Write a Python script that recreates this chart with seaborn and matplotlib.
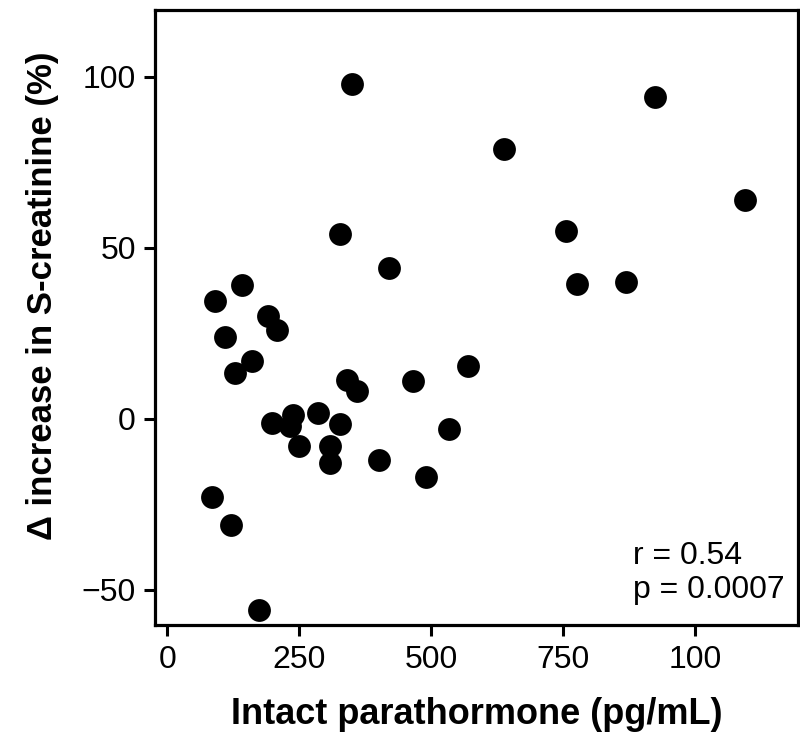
import matplotlib
matplotlib.use("Agg")
import matplotlib.pyplot as plt
import seaborn as sns
import pandas as pd

# Data
pth = [350, 924, 637, 1094, 328, 755, 420, 777, 869, 141, 90, 190, 207, 110,
       128, 160, 340, 359, 465, 570, 198, 238, 232, 286, 328, 250, 309, 309,
       401, 534, 491, 84, 121, 174]
creat = [98, 94, 79, 64, 54, 55, 44, 39.5, 40, 39, 34.3, 30, 26, 24,
         13.3, 16.8, 11.4, 8, 11, 15.5, -1.3, 1, -2, 1.7, -1.5, -8, -8, -13,
         -12, -3, -17, -23, -31, -56]

xticks = [0, 250, 500, 750, 1000]
xticklabels = ["0", "250", "500", "750", "100"]
yticks = [-50, 0, 50, 100]
yticklabels = ["\u221250", "0", "50", "100"]
stats_lines = ["r = 0.54", "p = 0.0007"]

df = pd.DataFrame({"pth": pth, "creat": creat})

sns.set_style("white")
plt.rcParams["font.family"] = ["Liberation Sans", "DejaVu Sans"]
plt.rcParams["text.color"] = "black"
plt.rcParams["axes.labelcolor"] = "black"

fig = plt.figure(figsize=(8, 7.38), dpi=100)
ax = fig.add_axes([0.194, 0.153, 0.8035, 0.834])

sns.scatterplot(data=df, x="pth", y="creat", color="black", s=270,
                linewidth=0, ax=ax, legend=False)

ax.set_xlim(-23, 1195)
ax.set_ylim(-60.4, 119.7)
ax.set_xticks(xticks)
ax.set_xticklabels(xticklabels)
ax.set_yticks(yticks)
ax.set_yticklabels(yticklabels)

for sp in ax.spines.values():
    sp.set_visible(True)
    sp.set_linewidth(2.3)
    sp.set_color("black")

ax.tick_params(axis="both", direction="out", length=8, width=2.2,
               color="black", labelsize=23, labelcolor="black", pad=6,
               left=True, bottom=True)

ax.set_xlabel("Intact parathormone (pg/mL)", fontsize=26, fontweight="bold",
              labelpad=16, color="black")
ax.set_ylabel("\u0394 increase in S-creatinine (%)", fontsize=25,
              fontweight="bold", color="black")
ax.yaxis.set_label_coords(-0.15, 0.535)

ax.text(0.743, 0.10, stats_lines[0], transform=ax.transAxes, fontsize=23,
        ha="left", va="baseline", color="black")
ax.text(0.743, 0.044, stats_lines[1], transform=ax.transAxes, fontsize=23,
        ha="left", va="baseline", color="black")

fig.savefig("out.png", dpi=100)
